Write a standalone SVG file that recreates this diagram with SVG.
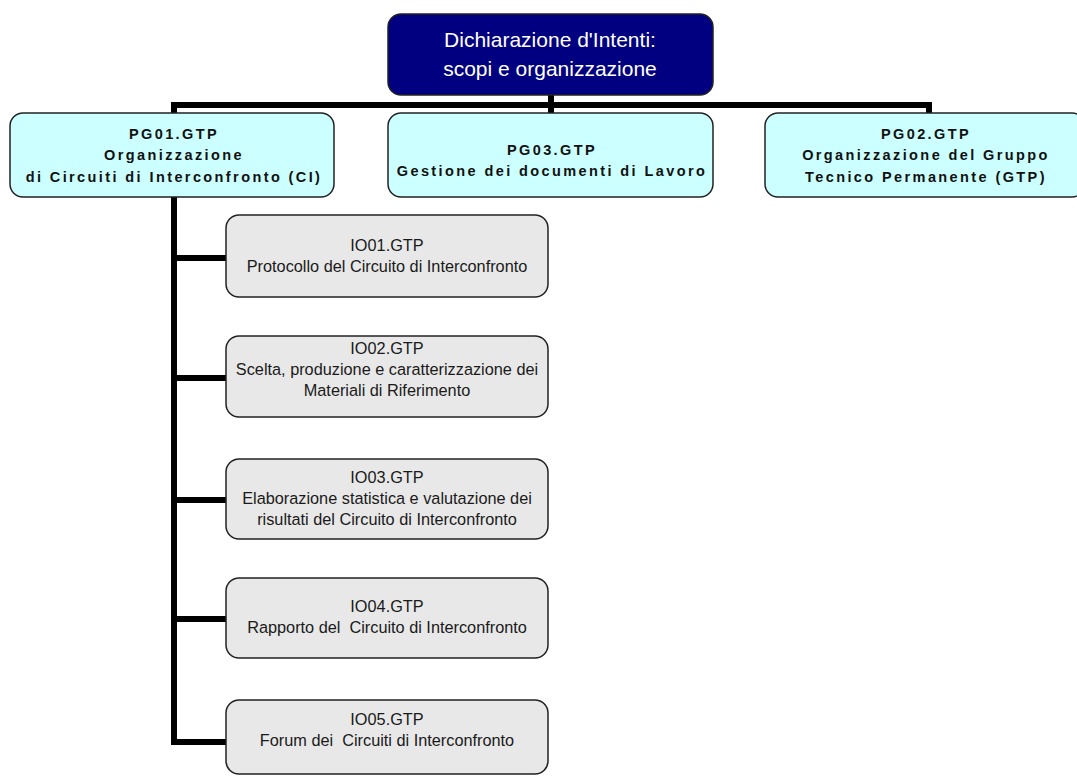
<svg xmlns="http://www.w3.org/2000/svg" width="1077" height="776" viewBox="0 0 1077 776">
<style>
.top{fill:#000080;stroke:#222;stroke-width:1.5}
.pg{fill:#ccffff;stroke:#222;stroke-width:1.5}
.io{fill:#e8e8e8;stroke:#222;stroke-width:1.5}
.tt{font-family:"Liberation Sans",Arial,sans-serif;font-size:21px;fill:#fff;text-anchor:middle}
.pt{font-family:"Liberation Sans",Arial,sans-serif;font-size:14.5px;font-weight:bold;letter-spacing:2.4px;fill:#111;text-anchor:middle}
.it{font-family:"Liberation Sans",Arial,sans-serif;font-size:16.3px;fill:#1a1a1a;text-anchor:middle}
.ln{fill:none;stroke:#000;stroke-width:6;stroke-linejoin:miter;stroke-linecap:butt}
</style>
<rect width="1077" height="776" fill="#fff"/>
<g id="connectors">
<path class="ln" d="M551,95 V113"/>
<path class="ln" d="M174,113 V105 H929 V113"/>
<path class="ln" d="M174,197 V742 H226"/>
<path class="ln" d="M174,258 H226"/>
<path class="ln" d="M174,378 H226"/>
<path class="ln" d="M174,500 H226"/>
<path class="ln" d="M174,619 H226"/>
</g>
<g id="top">
<rect class="top" x="388" y="14" width="325" height="81" rx="13"/>
<text class="tt" x="550" y="47">Dichiarazione d'Intenti:</text>
<text class="tt" x="550" y="76">scopi e organizzazione</text>
</g>
<g id="pg01">
<rect class="pg" x="10" y="113" width="324" height="84" rx="13"/>
<text class="pt" x="174" y="139">PG01.GTP</text>
<text class="pt" x="174" y="160">Organizzazione</text>
<text class="pt" x="174" y="182">di Circuiti di Interconfronto (CI)</text>
</g>
<g id="pg03">
<rect class="pg" x="388" y="113" width="325" height="84" rx="13"/>
<text class="pt" x="552" y="155">PG03.GTP</text>
<text class="pt" x="552" y="176">Gestione dei documenti di Lavoro</text>
</g>
<g id="pg02">
<rect class="pg" x="765" y="113" width="320" height="84" rx="13"/>
<text class="pt" x="926" y="139">PG02.GTP</text>
<text class="pt" x="926" y="160">Organizzazione del Gruppo</text>
<text class="pt" x="926" y="182">Tecnico Permanente (GTP)</text>
</g>
<g id="io01">
<rect class="io" x="226" y="215" width="322" height="82" rx="13"/>
<text class="it" x="387" y="251">IO01.GTP</text>
<text class="it" x="387" y="272">Protocollo del Circuito di Interconfronto</text>
</g>
<g id="io02">
<rect class="io" x="226" y="336" width="322" height="81" rx="13"/>
<text class="it" x="387" y="354">IO02.GTP</text>
<text class="it" x="387" y="375">Scelta, produzione e caratterizzazione dei</text>
<text class="it" x="387" y="396">Materiali di Riferimento</text>
</g>
<g id="io03">
<rect class="io" x="226" y="459" width="322" height="80" rx="13"/>
<text class="it" x="387" y="483">IO03.GTP</text>
<text class="it" x="387" y="504">Elaborazione statistica e valutazione dei</text>
<text class="it" x="387" y="525">risultati del Circuito di Interconfronto</text>
</g>
<g id="io04">
<rect class="io" x="226" y="578" width="322" height="80" rx="13"/>
<text class="it" x="387" y="612">IO04.GTP</text>
<text class="it" x="387" y="633" xml:space="preserve">Rapporto del  Circuito di Interconfronto</text>
</g>
<g id="io05">
<rect class="io" x="226" y="700" width="322" height="74" rx="13"/>
<text class="it" x="387" y="725">IO05.GTP</text>
<text class="it" x="387" y="746" xml:space="preserve">Forum dei  Circuiti di Interconfronto</text>
</g>
</svg>
